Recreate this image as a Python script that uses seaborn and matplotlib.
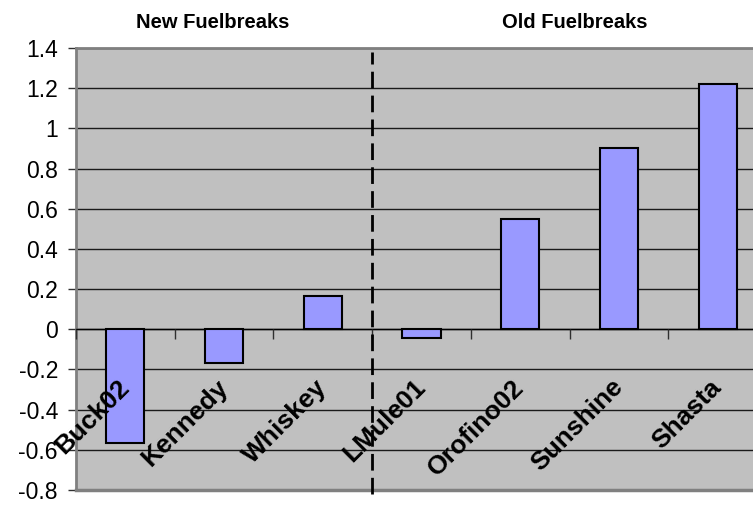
import numpy as np
import pandas as pd
import matplotlib
matplotlib.use("Agg")
import matplotlib.pyplot as plt
import seaborn as sns

# Site values (new fuelbreaks first, then old fuelbreaks)
sites = ["Buck02", "Kennedy", "Whiskey", "LMule01", "Orofino02", "Sunshine", "Shasta"]
values = [-0.565, -0.168, 0.165, -0.045, 0.55, 0.903, 1.222]
group_titles = ["New Fuelbreaks", "Old Fuelbreaks"]
ytick_values = [-0.8, -0.6, -0.4, -0.2, 0, 0.2, 0.4, 0.6, 0.8, 1, 1.2, 1.4]
ytick_labels = ["-0.8", "-0.6", "-0.4", "-0.2", "0", "0.2", "0.4", "0.6", "0.8", "1", "1.2", "1.4"]
n_new = 3  # number of sites in the first group

plt.rcParams["font.family"] = ["Liberation Sans", "DejaVu Sans"]
plt.rcParams["axes.unicode_minus"] = False

W, H = 753, 515
fig = plt.figure(figsize=(W / 100, H / 100), dpi=100)
# plot area runs slightly past the right edge of the figure
ax = fig.add_axes([76 / W, (H - 490) / H, (767 - 76) / W, (490 - 48) / H])
ax.set_facecolor("#C0C0C0")

df = pd.DataFrame({"site": sites, "value": values})
sns.barplot(data=df, x="site", y="value", color="#9999FF", saturation=1,
            edgecolor="black", linewidth=1.5, width=0.385, ax=ax, zorder=3)

ax.set_xlim(-0.5, len(sites) - 0.5)
ax.set_ylim(-0.8, 1.4)
ax.set_xlabel("")
ax.set_ylabel("")

# horizontal gridlines
ax.set_yticks(ytick_values, ytick_labels, fontsize=16.5)
ax.yaxis.grid(True, color="#1a1a1a", linewidth=1)
ax.xaxis.grid(False)
ax.set_axisbelow(True)
ax.tick_params(axis="y", direction="out", length=6, width=1, color="#303030", pad=7)

# category axis sits on the zero line
ax.spines["bottom"].set_position(("data", 0))
ax.spines["bottom"].set_color("black")
ax.spines["bottom"].set_linewidth(1)
ax.spines["bottom"].set_zorder(2.5)
ax.set_xticks(np.arange(-0.5, len(sites), 1.0), [""] * (len(sites) + 1))
ax.tick_params(axis="x", which="major", direction="out", length=7, width=1, color="#303030")
ax.set_xticks(range(len(sites)), sites, minor=True)
ax.tick_params(axis="x", which="minor", length=0, pad=39)
for lbl in ax.get_xticklabels(minor=True):
    lbl.set_rotation(45)
    lbl.set_rotation_mode("anchor")
    lbl.set_ha("right")
    lbl.set_va("center")
    lbl.set_fontsize(19)
    lbl.set_fontweight("bold")
# site names are drawn over the bars
ax.xaxis.set_zorder(4.5)

for side in ("left", "top", "right"):
    ax.spines[side].set_color("#808080")
    ax.spines[side].set_linewidth(2)
# lower border of the plot area
ax.axhline(-0.8, color="#808080", linewidth=2.5, clip_on=False, zorder=4)

# divider between the two groups
div = ax.axvline(n_new - 0.5, ymin=-0.008, ymax=0.99, color="black", linewidth=2,
                 clip_on=False, zorder=5)
div.set_dashes((6, 2.6))

# group titles
fig.text(213 / W, 1 - 23 / H, group_titles[0], ha="center", va="center",
         fontsize=14.5, fontweight="bold")
fig.text(575 / W, 1 - 23 / H, group_titles[1], ha="center", va="center",
         fontsize=14.5, fontweight="bold")

fig.savefig("out.png", dpi=100)
